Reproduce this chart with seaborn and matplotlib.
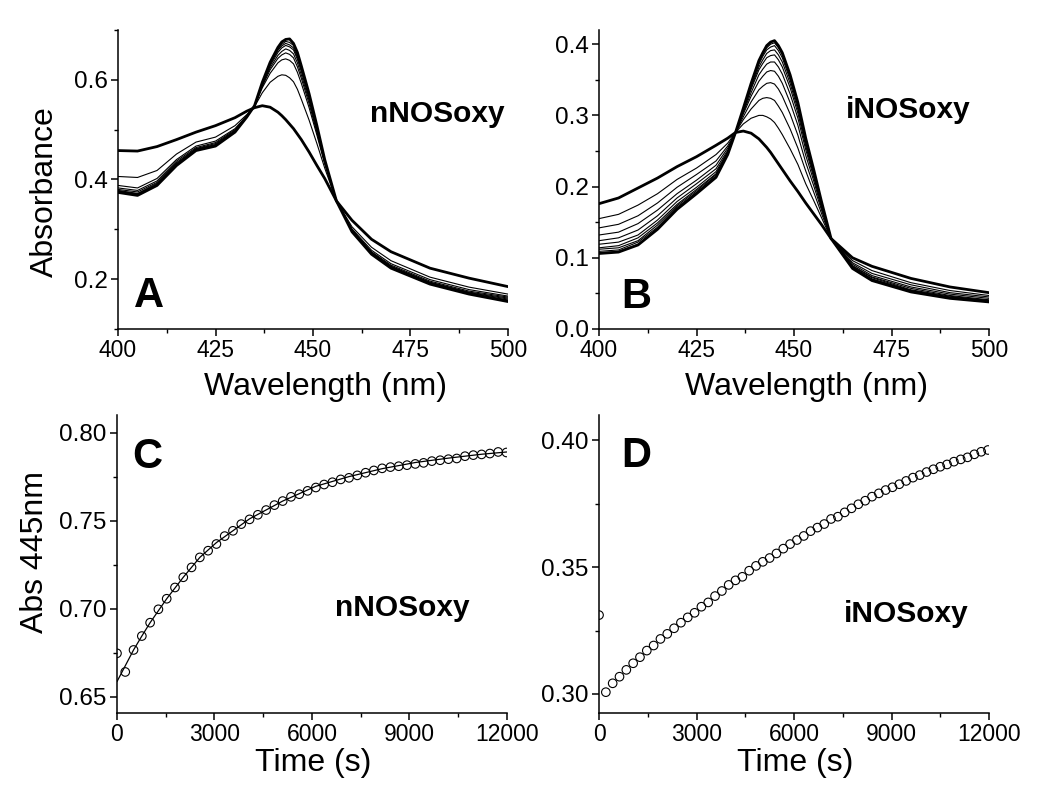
import matplotlib
matplotlib.use("Agg")
import numpy as np
import pandas as pd
import matplotlib.pyplot as plt
from matplotlib.ticker import MultipleLocator
import seaborn as sns

# ---------------- DATA ----------------
# Panel A (nNOSoxy spectra)
wl_a = [400, 405, 410, 415, 420, 425, 430, 433, 435, 437, 439, 441, 442, 443, 444, 445, 446,
        447, 449, 451, 453, 456, 460, 465, 470, 480, 490, 500]
a_initial = [0.458, 0.457, 0.466, 0.480, 0.495, 0.508, 0.524, 0.537, 0.544, 0.548, 0.545, 0.535, 0.528, 0.520,
             0.511, 0.502, 0.491, 0.480, 0.455, 0.428, 0.402, 0.357, 0.318, 0.280, 0.255, 0.222, 0.202, 0.185]
a_t1 = [0.406, 0.404, 0.418, 0.451, 0.475, 0.485, 0.508, 0.530, 0.546, 0.574, 0.595, 0.607, 0.610, 0.609,
        0.604, 0.596, 0.581, 0.561, 0.519, 0.472, 0.423, 0.357, 0.305, 0.264, 0.237, 0.204, 0.184, 0.170]
a_t2 = [0.388, 0.383, 0.402, 0.440, 0.467, 0.477, 0.502, 0.528, 0.547, 0.584, 0.613, 0.634, 0.640, 0.642,
        0.639, 0.632, 0.615, 0.593, 0.544, 0.489, 0.431, 0.357, 0.301, 0.258, 0.231, 0.199, 0.179, 0.166]
a_t3 = [0.383, 0.378, 0.397, 0.437, 0.464, 0.474, 0.500, 0.527, 0.547, 0.587, 0.620, 0.643, 0.650, 0.654,
        0.651, 0.644, 0.626, 0.603, 0.552, 0.494, 0.434, 0.357, 0.299, 0.255, 0.228, 0.196, 0.176, 0.164]
a_t4 = [0.380, 0.375, 0.394, 0.434, 0.462, 0.472, 0.498, 0.526, 0.548, 0.589, 0.624, 0.649, 0.657, 0.662,
        0.659, 0.652, 0.634, 0.610, 0.558, 0.498, 0.435, 0.357, 0.298, 0.254, 0.226, 0.194, 0.174, 0.162]
a_t5 = [0.378, 0.372, 0.392, 0.432, 0.461, 0.470, 0.497, 0.526, 0.548, 0.591, 0.628, 0.655, 0.664, 0.669,
        0.666, 0.660, 0.641, 0.617, 0.563, 0.502, 0.437, 0.357, 0.297, 0.253, 0.225, 0.193, 0.173, 0.160]
a_t6 = [0.377, 0.371, 0.390, 0.430, 0.460, 0.469, 0.496, 0.525, 0.548, 0.593, 0.631, 0.659, 0.668, 0.673,
        0.670, 0.664, 0.645, 0.621, 0.566, 0.504, 0.438, 0.357, 0.296, 0.252, 0.224, 0.192, 0.172, 0.158]
a_t7 = [0.376, 0.370, 0.389, 0.429, 0.459, 0.468, 0.496, 0.525, 0.548, 0.594, 0.633, 0.662, 0.671, 0.677,
        0.675, 0.669, 0.649, 0.624, 0.569, 0.506, 0.439, 0.357, 0.296, 0.251, 0.223, 0.191, 0.171, 0.157]
a_final = [0.374, 0.368, 0.388, 0.428, 0.458, 0.467, 0.495, 0.525, 0.548, 0.595, 0.635, 0.665, 0.676, 0.681,
           0.682, 0.673, 0.655, 0.628, 0.572, 0.508, 0.440, 0.357, 0.295, 0.250, 0.222, 0.190, 0.170, 0.155]

# Panel B (iNOSoxy spectra)
wl_b = [400, 405, 410, 415, 420, 425, 430, 433, 435, 437, 439, 441, 442, 443, 444, 445, 446,
        447, 449, 451, 453, 455, 457, 459.5, 465, 470, 480, 490, 500]
b_initial = [0.176, 0.184, 0.198, 0.212, 0.228, 0.242, 0.258, 0.268, 0.276, 0.278, 0.275, 0.267, 0.261, 0.255, 0.248,
             0.240, 0.232, 0.224, 0.208, 0.193, 0.177, 0.162, 0.147, 0.127, 0.100, 0.088, 0.071, 0.059, 0.051]
b_t1 = [0.155, 0.161, 0.174, 0.190, 0.210, 0.226, 0.245, 0.261, 0.276, 0.288, 0.296, 0.300, 0.300, 0.298, 0.295,
        0.290, 0.282, 0.273, 0.253, 0.231, 0.204, 0.181, 0.157, 0.127, 0.096, 0.082, 0.065, 0.054, 0.047]
b_t2 = [0.142, 0.147, 0.159, 0.177, 0.199, 0.217, 0.236, 0.257, 0.276, 0.294, 0.309, 0.321, 0.324, 0.325, 0.324,
        0.321, 0.313, 0.304, 0.281, 0.254, 0.222, 0.193, 0.163, 0.127, 0.093, 0.078, 0.062, 0.051, 0.045]
b_t3 = [0.132, 0.136, 0.148, 0.167, 0.190, 0.209, 0.230, 0.254, 0.276, 0.298, 0.319, 0.336, 0.341, 0.345, 0.346,
        0.344, 0.337, 0.327, 0.302, 0.272, 0.234, 0.202, 0.168, 0.127, 0.091, 0.075, 0.059, 0.049, 0.043]
b_t4 = [0.124, 0.128, 0.139, 0.159, 0.184, 0.204, 0.225, 0.251, 0.276, 0.302, 0.327, 0.348, 0.355, 0.361, 0.363,
        0.362, 0.355, 0.345, 0.318, 0.286, 0.244, 0.209, 0.171, 0.127, 0.089, 0.073, 0.057, 0.047, 0.041]
b_t5 = [0.119, 0.122, 0.132, 0.153, 0.179, 0.199, 0.221, 0.249, 0.276, 0.304, 0.332, 0.357, 0.365, 0.372, 0.375,
        0.375, 0.368, 0.358, 0.330, 0.296, 0.252, 0.214, 0.174, 0.127, 0.088, 0.072, 0.055, 0.046, 0.040]
b_t6 = [0.114, 0.117, 0.128, 0.149, 0.175, 0.196, 0.218, 0.248, 0.276, 0.306, 0.337, 0.364, 0.373, 0.381, 0.384,
        0.385, 0.378, 0.368, 0.339, 0.303, 0.257, 0.217, 0.176, 0.127, 0.087, 0.070, 0.054, 0.045, 0.040]
b_t7 = [0.112, 0.114, 0.124, 0.146, 0.173, 0.194, 0.217, 0.247, 0.276, 0.307, 0.339, 0.368, 0.378, 0.387, 0.391,
        0.392, 0.385, 0.375, 0.345, 0.308, 0.261, 0.220, 0.177, 0.127, 0.086, 0.070, 0.054, 0.044, 0.039]
b_t8 = [0.109, 0.111, 0.122, 0.143, 0.171, 0.192, 0.215, 0.246, 0.276, 0.309, 0.342, 0.372, 0.383, 0.392, 0.396,
        0.398, 0.391, 0.381, 0.350, 0.312, 0.264, 0.222, 0.179, 0.127, 0.086, 0.069, 0.053, 0.044, 0.039]
b_t9 = [0.107, 0.109, 0.119, 0.141, 0.169, 0.191, 0.214, 0.245, 0.276, 0.309, 0.344, 0.375, 0.386, 0.395, 0.400,
        0.402, 0.395, 0.385, 0.354, 0.316, 0.266, 0.224, 0.179, 0.127, 0.085, 0.068, 0.052, 0.043, 0.038]
b_final = [0.106, 0.108, 0.118, 0.140, 0.168, 0.190, 0.213, 0.245, 0.276, 0.310, 0.345, 0.377, 0.388, 0.398, 0.403,
           0.405, 0.398, 0.388, 0.357, 0.318, 0.268, 0.225, 0.180, 0.127, 0.085, 0.068, 0.052, 0.043, 0.038]

# Panel C (nNOSoxy kinetics, Abs 445 nm)
step_c = 255
abs_c = [0.6746, 0.6640, 0.6765, 0.6844, 0.6920, 0.6996, 0.7056, 0.7120, 0.7178, 0.7234, 0.7291, 0.7329,
         0.7367, 0.7412, 0.7442, 0.7480, 0.7507, 0.7533, 0.7560, 0.7588, 0.7611, 0.7635, 0.7650, 0.7669,
         0.7688, 0.7705, 0.7718, 0.7734, 0.7743, 0.7757, 0.7772, 0.7785, 0.7797, 0.7804, 0.7809, 0.7815,
         0.7822, 0.7828, 0.7838, 0.7843, 0.7849, 0.7853, 0.7866, 0.7872, 0.7876, 0.7881, 0.7890, 0.7887]
time_c = [i * step_c for i in range(len(abs_c))]
fit_time_c = [0, 255, 510, 765, 1020, 1530, 2040, 2550, 3060, 4080, 5100, 6120, 7140, 8160,
              9180, 10200, 11220, 12000]
fit_abs_c = [0.6585, 0.6675, 0.6765, 0.6844, 0.6920, 0.7056, 0.7178, 0.7291, 0.7375, 0.7510, 0.7611,
             0.7695, 0.7750, 0.7795, 0.7830, 0.7855, 0.7877, 0.7890]

# Panel D (iNOSoxy kinetics, Abs 445 nm)
step_d = 210
abs_d = [0.3311, 0.3007, 0.3042, 0.3068, 0.3095, 0.3121, 0.3145, 0.3171, 0.3191, 0.3217, 0.3237, 0.3259,
         0.3281, 0.3302, 0.3320, 0.3344, 0.3361, 0.3386, 0.3406, 0.3430, 0.3448, 0.3462, 0.3486, 0.3505,
         0.3521, 0.3536, 0.3554, 0.3573, 0.3591, 0.3607, 0.3623, 0.3642, 0.3656, 0.3670, 0.3690, 0.3699,
         0.3716, 0.3732, 0.3748, 0.3762, 0.3778, 0.3791, 0.3804, 0.3815, 0.3827, 0.3840, 0.3853, 0.3863,
         0.3875, 0.3886, 0.3896, 0.3905, 0.3916, 0.3925, 0.3933, 0.3945, 0.3955, 0.3962]
time_d = [i * step_d for i in range(len(abs_d))]

spec_ticks = [400, 425, 450, 475, 500]
time_ticks = [0, 3000, 6000, 9000, 12000]

# ---------------- STYLE ----------------
sns.set_theme(style="ticks")
plt.rcParams['font.family'] = ['Liberation Sans', 'DejaVu Sans']
plt.rcParams['axes.linewidth'] = 1.1
plt.rcParams['xtick.color'] = 'black'
plt.rcParams['ytick.color'] = 'black'
plt.rcParams['axes.edgecolor'] = 'black'
plt.rcParams['text.color'] = 'black'
plt.rcParams['axes.labelcolor'] = 'black'

fig = plt.figure(figsize=(10.5, 8.01), dpi=100)
axA = fig.add_axes([0.1124, 0.5893, 0.3714, 0.3733])
axB = fig.add_axes([0.5705, 0.5893, 0.3714, 0.3733])
axC = fig.add_axes([0.1114, 0.1099, 0.3714, 0.3720])
axD = fig.add_axes([0.5705, 0.1099, 0.3714, 0.3720])

THICK, THIN = 2.0, 0.8

def draw_spectra(ax, wl, curves):
    n = len(curves)
    for i, c in enumerate(curves):
        lw = THICK if i in (0, n - 1) else THIN
        df = pd.DataFrame({"wl": wl, "A": c})
        sns.lineplot(data=df, x="wl", y="A", ax=ax, color="black", lw=lw,
                     estimator=None, legend=False, solid_joinstyle="round")

draw_spectra(axA, wl_a, [a_initial, a_t1, a_t2, a_t3, a_t4, a_t5, a_t6, a_t7, a_final])
draw_spectra(axB, wl_b, [b_initial, b_t1, b_t2, b_t3, b_t4, b_t5, b_t6, b_t7, b_t8, b_t9, b_final])

dfc = pd.DataFrame({"t": time_c, "A": abs_c})
dfc_fit = pd.DataFrame({"t": fit_time_c, "A": fit_abs_c})
sns.lineplot(data=dfc_fit, x="t", y="A", ax=axC, color="black", lw=0.9, estimator=None)
sns.scatterplot(data=dfc, x="t", y="A", ax=axC, marker="o", s=38, facecolors="none",
                edgecolor="black", linewidth=0.8, zorder=3)

dfd = pd.DataFrame({"t": time_d, "A": abs_d})
sns.scatterplot(data=dfd, x="t", y="A", ax=axD, marker="o", s=38, facecolors="none",
                edgecolor="black", linewidth=0.8, zorder=3)

# Axes limits and ticks
axA.set_xlim(400, 500); axA.set_ylim(0.1, 0.70)
axB.set_xlim(400, 500); axB.set_ylim(0.0, 0.42)
axC.set_xlim(0, 12000); axC.set_ylim(0.6407, 0.81)
axD.set_xlim(0, 12000); axD.set_ylim(0.2925, 0.41)

for ax in (axA, axB):
    ax.set_xticks(spec_ticks)
    ax.xaxis.set_minor_locator(MultipleLocator(12.5))
axA.set_yticks([0.2, 0.4, 0.6]); axA.yaxis.set_minor_locator(MultipleLocator(0.1))
axB.set_yticks([0.0, 0.1, 0.2, 0.3, 0.4]); axB.yaxis.set_minor_locator(MultipleLocator(0.05))
axA.set_yticklabels(["0.2", "0.4", "0.6"])
axB.set_yticklabels(["0.0", "0.1", "0.2", "0.3", "0.4"])
for ax in (axC, axD):
    ax.set_xticks(time_ticks)
    ax.xaxis.set_minor_locator(MultipleLocator(1500))
axC.set_yticks([0.65, 0.70, 0.75, 0.80]); axC.yaxis.set_minor_locator(MultipleLocator(0.025))
axC.set_yticklabels(["0.65", "0.70", "0.75", "0.80"])
axD.set_yticks([0.30, 0.35, 0.40]); axD.yaxis.set_minor_locator(MultipleLocator(0.025))
axD.set_yticklabels(["0.30", "0.35", "0.40"])

for ax in (axA, axB, axC, axD):
    sns.despine(ax=ax)
    ax.tick_params(which="major", direction="out", length=5, width=1.1, pad=2.5, colors="black")
    ax.tick_params(axis="x", which="major", labelsize=16.5)
    ax.tick_params(axis="y", which="major", labelsize=17.5)
    ax.tick_params(which="minor", direction="out", length=3, width=1.0, colors="black")
    ax.set_xlabel(""); ax.set_ylabel("")

lab_kw = dict(fontsize=23, color="black")
axA.set_xlabel("Wavelength (nm)", **lab_kw)
axB.set_xlabel("Wavelength (nm)", **lab_kw)
axC.set_xlabel("Time (s)", **lab_kw)
axD.set_xlabel("Time (s)", **lab_kw)
axA.set_ylabel("Absorbance", **lab_kw)
axC.set_ylabel("Abs 445nm", **lab_kw)
axA.xaxis.set_label_coords(0.531, -0.145)
axB.xaxis.set_label_coords(0.531, -0.145)
axC.xaxis.set_label_coords(0.504, -0.118)
axD.xaxis.set_label_coords(0.504, -0.118)
axA.yaxis.set_label_coords(-0.15, 0.46)
axC.yaxis.set_label_coords(-0.172, 0.539)

# Panel annotations
big = dict(fontsize=30, fontweight="bold", ha="left", va="baseline", color="black")
name = dict(fontsize=21.5, fontweight="bold", ha="left", va="baseline", color="black")
axA.text(0.040, 0.074, "A", transform=axA.transAxes, **big)
axA.text(0.645, 0.692, "nNOSoxy", transform=axA.transAxes, **name)
axB.text(0.057, 0.070, "B", transform=axB.transAxes, **big)
axB.text(0.632, 0.706, "iNOSoxy", transform=axB.transAxes, **name)
axC.text(0.040, 0.822, "C", transform=axC.transAxes, **big)
axC.text(0.560, 0.326, "nNOSoxy", transform=axC.transAxes, **name)
axD.text(0.057, 0.826, "D", transform=axD.transAxes, **big)
axD.text(0.629, 0.305, "iNOSoxy", transform=axD.transAxes, **name)

fig.savefig("out.png", dpi=100, facecolor="white")
